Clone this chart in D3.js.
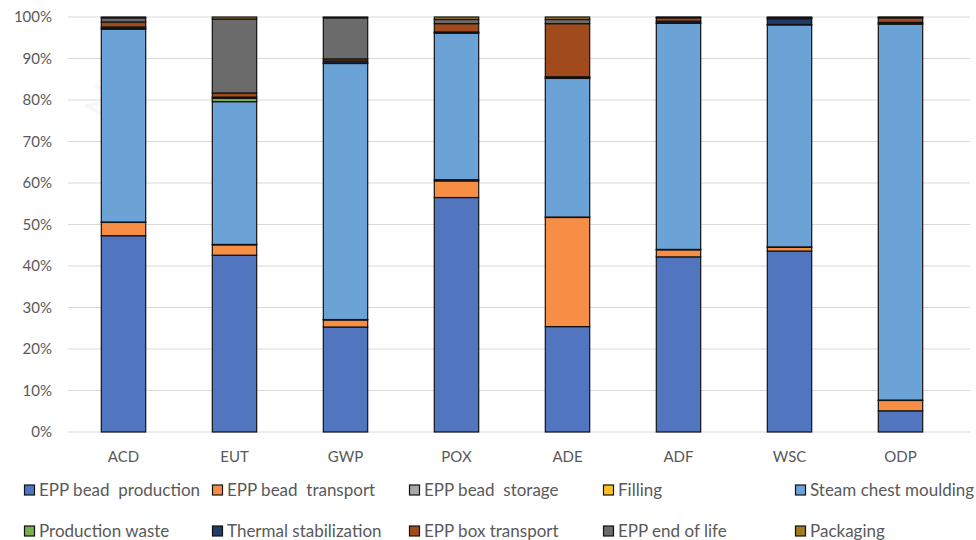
<!DOCTYPE html>
<html>
<head>
<meta charset="utf-8">
<script src="https://cdnjs.cloudflare.com/ajax/libs/d3/7.8.5/d3.min.js"></script>
<style>
  body { margin: 0; background: #fff; }
  text { font-family: Lato, "Open Sans", sans-serif; }
</style>
</head>
<body>
<div id="chart"></div>
<script>
var categories = ["ACD", "EUT", "GWP", "POX", "ADE", "ADF", "WSC", "ODP"];
var stages = ["EPP bead  production", "EPP bead  transport", "EPP bead  storage", "Filling",
              "Steam chest moulding", "Production waste", "Thermal stabilization",
              "EPP box transport", "EPP end of life", "Packaging"];
var colors = ["#5275bf", "#f68f45", "#a8a8a8", "#fdc222", "#6ca3d7",
              "#76b04f", "#223c6a", "#a14b1d", "#6b6b6b", "#a07c1e"];

// percent share per stage, one array per stage, in category order
var beadProduction = [47.3, 42.6, 25.3, 56.5, 25.4, 42.2, 43.6, 5.1];
var beadTransport  = [3.2, 2.5, 1.7, 4.0, 26.3, 1.7, 0.9, 2.5];
var beadStorage    = [0.1, 0.1, 0.1, 0.3, 0.1, 0.1, 0.1, 0.1];
var filling        = [0, 0, 0, 0, 0, 0, 0, 0];
var steamChest     = [46.5, 34.4, 61.7, 35.3, 33.4, 54.5, 53.5, 90.6];
var prodWaste      = [0.1, 0.8, 0.1, 0.1, 0.1, 0.1, 0.1, 0.1];
var thermalStab    = [0.4, 0.3, 0.5, 0.2, 0.3, 0.4, 1.4, 0.3];
var boxTransport   = [1.2, 1.0, 0.5, 2.0, 12.8, 0.8, 0.1, 1.1];
var endOfLife      = [1.0, 17.8, 9.9, 1.0, 1.0, 0.1, 0.1, 0.1];
var packaging      = [0.2, 0.5, 0.2, 0.6, 0.6, 0.1, 0.2, 0.1];
var yTicks = [0, 10, 20, 30, 40, 50, 60, 70, 80, 90, 100];

var series = [beadProduction, beadTransport, beadStorage, filling, steamChest,
              prodWaste, thermalStab, boxTransport, endOfLife, packaging];

var W = 976, H = 540;

var svg = d3.select("#chart").append("svg")
  .attr("width", W).attr("height", H);

var x = d3.scaleBand().domain(categories)
  .range([68, 956]).paddingInner(0.6).paddingOuter(0.3);
var y = d3.scaleLinear().domain([0, 100]).range([432, 17]);

// faint watermark
svg.append("text")
  .attr("transform", "translate(110,125) rotate(-62)")
  .attr("fill", "#000").attr("fill-opacity", 0.05)
  .style("font-size", "44px")
  .text("Non-");

// gridlines
svg.append("g").selectAll("line").data(yTicks).join("line")
  .attr("x1", 68).attr("x2", 970)
  .attr("y1", function (d) { return y(d); })
  .attr("y2", function (d) { return y(d); })
  .attr("stroke", "#d9d9d9").attr("stroke-width", 1);

// y labels
svg.append("g").selectAll("text").data(yTicks).join("text")
  .attr("x", 52).attr("y", function (d) { return y(d); })
  .attr("dy", "0.35em").attr("text-anchor", "end")
  .attr("fill", "#595959").style("font-size", "15px")
  .text(function (d) { return d + "%"; });

// stacked data
var table = categories.map(function (c, i) {
  var row = {cat: c};
  stages.forEach(function (s, j) { row[s] = series[j][i]; });
  return row;
});
var stacked = d3.stack().keys(stages)(table);

svg.append("g").selectAll("g").data(stacked).join("g")
  .attr("fill", function (d, i) { return colors[i]; })
  .selectAll("rect").data(function (d) { return d; }).join("rect")
  .attr("x", function (d) { return x(d.data.cat); })
  .attr("width", x.bandwidth())
  .attr("y", function (d) { return y(d[1]); })
  .attr("height", function (d) { return Math.max(0, y(d[0]) - y(d[1])); })
  .attr("stroke", "#111").attr("stroke-width", 1.2);

// x labels
svg.append("g").selectAll("text").data(categories).join("text")
  .attr("x", function (d) { return x(d) + x.bandwidth() / 2; })
  .attr("y", 462).attr("text-anchor", "middle")
  .attr("fill", "#595959").style("font-size", "15px")
  .text(function (d) { return d; });

// legend
var colX = [24, 212, 409, 603, 795];
var rowY = [490, 531];
var legend = svg.append("g").selectAll("g").data(stages).join("g")
  .attr("transform", function (d, i) {
    return "translate(" + colX[i % 5] + "," + rowY[Math.floor(i / 5)] + ")";
  });
legend.append("rect")
  .attr("x", 0.5).attr("y", -5).attr("width", 10).attr("height", 10)
  .attr("fill", function (d, i) { return colors[i]; })
  .attr("stroke", "#111").attr("stroke-width", 1.2);
legend.append("text")
  .attr("x", 15).attr("dy", "0.35em")
  .attr("fill", "#595959").style("font-size", "17px")
  .style("white-space", "pre")
  .text(function (d) { return d; });
</script>
</body>
</html>
